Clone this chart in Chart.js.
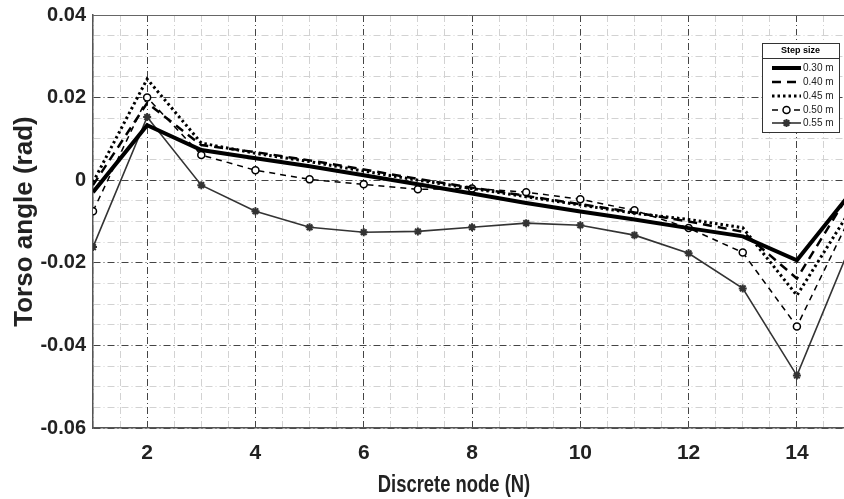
<!DOCTYPE html>
<html>
<head>
<meta charset="utf-8">
<script src="https://cdn.jsdelivr.net/npm/chart.js@4.4.0/dist/chart.umd.min.js"></script>
<style>
  html, body { margin: 0; padding: 0; background: #fff; }
  #wrap { width: 844px; height: 499px; }
</style>
</head>
<body>
<div id="wrap"><canvas id="chart-torso"></canvas></div>
<script>
    // Data dibaca dari gambar referensi
    const nodes = [1, 2, 3, 4, 5, 6, 7, 8, 9, 10, 11, 12, 13, 14, 15];
    const step030 = [-0.0029, 0.0133, 0.0073, 0.0053, 0.0034, 0.0012, -0.0010, -0.0032, -0.0055, -0.0076, -0.0095, -0.0116, -0.0136, -0.0194, -0.0030];
    const step040 = [-0.0012, 0.0187, 0.0085, 0.0068, 0.0048, 0.0026, 0.0003, -0.0018, -0.0038, -0.0058, -0.0078, -0.0100, -0.0125, -0.0238, -0.0025];
    const step045 = [-0.0005, 0.0245, 0.0090, 0.0065, 0.0045, 0.0022, 0.0000, -0.0020, -0.0040, -0.0060, -0.0080, -0.0095, -0.0115, -0.0279, -0.0070];
    const step050 = [-0.0075, 0.0200, 0.0061, 0.0024, 0.0002, -0.0010, -0.0022, -0.0020, -0.0029, -0.0046, -0.0073, -0.0116, -0.0175, -0.0354, -0.0085];
    const step055 = [-0.0162, 0.0153, -0.0012, -0.0075, -0.0114, -0.0126, -0.0124, -0.0114, -0.0104, -0.0109, -0.0133, -0.0177, -0.0262, -0.0473, -0.0155];
    const stepLabels = ['0.30 m', '0.40 m', '0.45 m', '0.50 m', '0.55 m'];
    const xTitle = 'Discrete node (N)';
    const yTitle = 'Torso angle (rad)';

    const FONT = "'Liberation Sans', Arial, sans-serif";

    const xMajor = v => Math.abs(v % 2) < 1e-9;
    const yMajor = v => Math.abs(v / 0.02 - Math.round(v / 0.02)) < 1e-6;

    function toPoints(arr) {
        return nodes.map((n, i) => ({ x: n, y: arr[i] }));
    }

    const datasets = [
        { label: stepLabels[0], data: toPoints(step030), borderColor: '#000', borderWidth: 4, pointRadius: 0 },
        { label: stepLabels[1], data: toPoints(step040), borderColor: '#000', borderWidth: 2.5, borderDash: [9, 6], pointRadius: 0 },
        { label: stepLabels[2], data: toPoints(step045), borderColor: '#000', borderWidth: 3, borderDash: [2.5, 3], pointRadius: 0 },
        { label: stepLabels[3], data: toPoints(step050), borderColor: '#000', borderWidth: 1.5, borderDash: [6, 5],
          pointStyle: 'circle', pointRadius: 3.5, pointBackgroundColor: '#fff', pointBorderColor: '#000', pointBorderWidth: 1.5 },
        { label: stepLabels[4], data: toPoints(step055), borderColor: '#333', borderWidth: 1.6,
          pointStyle: 'star', pointRadius: 4, pointBackgroundColor: '#333', pointBorderColor: '#333', pointBorderWidth: 2 },
    ].map(d => ({ ...d, fill: false, tension: 0, backgroundColor: d.pointBackgroundColor || '#000' }));

    // Legenda kotak di dalam area plot + judul sumbu X (huruf dipadatkan)
    const boxLegend = {
        id: 'boxLegend',
        afterDraw(chart) {
            const ctx = chart.ctx;
            const x0 = 762, y0 = 43, w = 77, h = 89;
            ctx.save();
            ctx.fillStyle = '#fff';
            ctx.fillRect(x0, y0, w, h);
            ctx.strokeStyle = '#333';
            ctx.lineWidth = 1;
            ctx.strokeRect(x0 + 0.5, y0 + 0.5, w, h);
            ctx.beginPath();
            ctx.moveTo(x0, y0 + 15.5);
            ctx.lineTo(x0 + w, y0 + 15.5);
            ctx.stroke();
            ctx.fillStyle = '#000';
            ctx.font = "bold 9px 'Liberation Sans', Arial";
            ctx.textAlign = 'center';
            ctx.textBaseline = 'middle';
            ctx.fillText('Step size', x0 + w / 2, y0 + 8);
            ctx.font = "10px 'Liberation Sans', Arial";
            ctx.textAlign = 'left';
            const rows = [68, 82, 96, 110, 123];
            chart.data.datasets.forEach((ds, i) => {
                const y = rows[i];
                ctx.save();
                ctx.strokeStyle = ds.borderColor;
                ctx.lineWidth = ds.borderWidth;
                ctx.setLineDash(ds.borderDash || []);
                ctx.beginPath();
                ctx.moveTo(772, y);
                ctx.lineTo(801, y);
                ctx.stroke();
                ctx.restore();
                if (ds.pointRadius) {
                    ctx.save();
                    ctx.fillStyle = ds.pointBackgroundColor;
                    ctx.strokeStyle = ds.pointBorderColor;
                    ctx.lineWidth = ds.pointBorderWidth;
                    Chart.helpers.drawPoint(ctx, {
                        pointStyle: ds.pointStyle, radius: ds.pointRadius, borderWidth: ds.pointBorderWidth, rotation: 0
                    }, 786.5, y);
                    ctx.restore();
                }
                ctx.fillStyle = '#222';
                ctx.fillText(ds.label, 803, y + 0.5);
            });
            // garis atas bingkai
            const a = chart.chartArea;
            ctx.strokeStyle = '#666';
            ctx.lineWidth = 1;
            ctx.beginPath();
            ctx.moveTo(a.left, a.top + 0.5);
            ctx.lineTo(a.right, a.top + 0.5);
            ctx.stroke();
            // judul sumbu X
            ctx.translate(454, 492);
            ctx.scale(0.8, 1);
            ctx.fillStyle = '#222';
            ctx.font = 'bold 23px ' + FONT;
            ctx.textAlign = 'center';
            ctx.textBaseline = 'alphabetic';
            ctx.fillText(xTitle, 0, 0);
            ctx.restore();
        }
    };

    new Chart(document.getElementById('chart-torso'), {
        type: 'line',
        data: { datasets: datasets },
        plugins: [boxLegend],
        options: {
            responsive: true,
            maintainAspectRatio: false,
            animation: false,
            layout: { autoPadding: false, padding: { top: 15, right: 0, left: 0, bottom: 0 } },
            plugins: { legend: { display: false }, tooltip: { enabled: false } },
            scales: {
                x: {
                    type: 'linear',
                    min: 1,
                    max: 14.87,
                    afterBuildTicks: scale => {
                        const t = [];
                        for (let v = 1; v <= 14.5; v += 0.5) t.push({ value: v });
                        scale.ticks = t;
                    },
                    afterFit: scale => { scale.height = 71; },
                    ticks: {
                        autoSkip: false,
                        maxRotation: 0,
                        padding: 13,
                        color: '#222',
                        font: { family: FONT, size: 21, weight: 'bold' },
                        callback: v => (xMajor(v) && v > 1 ? String(v) : ''),
                    },
                    grid: {
                        drawTicks: false,
                        color: c => (c.tick && xMajor(c.tick.value) ? '#444' : '#d2d2d2'),
                        lineWidth: 1,
                    },
                    border: { color: '#555', width: 1.5, dash: [7, 3, 1, 3] },
                    title: { display: false },
                },
                y: {
                    min: -0.06,
                    max: 0.04,
                    afterBuildTicks: scale => {
                        const t = [];
                        for (let i = 0; i <= 20; i++) t.push({ value: -0.06 + i * 0.005 });
                        scale.ticks = t;
                    },
                    afterFit: scale => {
                        scale.width = 93;
                        scale.paddingTop = 0;
                        scale.paddingBottom = 0;
                    },
                    ticks: {
                        autoSkip: false,
                        padding: 7,
                        color: '#222',
                        font: { family: FONT, size: 20, weight: 'bold' },
                        callback: v => {
                            if (!yMajor(v)) return '';
                            const r = Math.round(v * 100) / 100;
                            return Math.abs(r) < 1e-9 ? '0' : r.toFixed(2);
                        },
                    },
                    grid: {
                        drawTicks: false,
                        color: c => (c.tick && yMajor(c.tick.value) ? '#444' : '#d2d2d2'),
                        lineWidth: 1,
                    },
                    border: { color: '#555', width: 1.5, dash: [7, 3, 1, 3] },
                    title: {
                        display: true,
                        text: yTitle,
                        color: '#222',
                        font: { family: FONT, size: 26, weight: 'bold' },
                        padding: { top: 9, bottom: 0 },
                    },
                },
            },
        },
    });
</script>
</body>
</html>
